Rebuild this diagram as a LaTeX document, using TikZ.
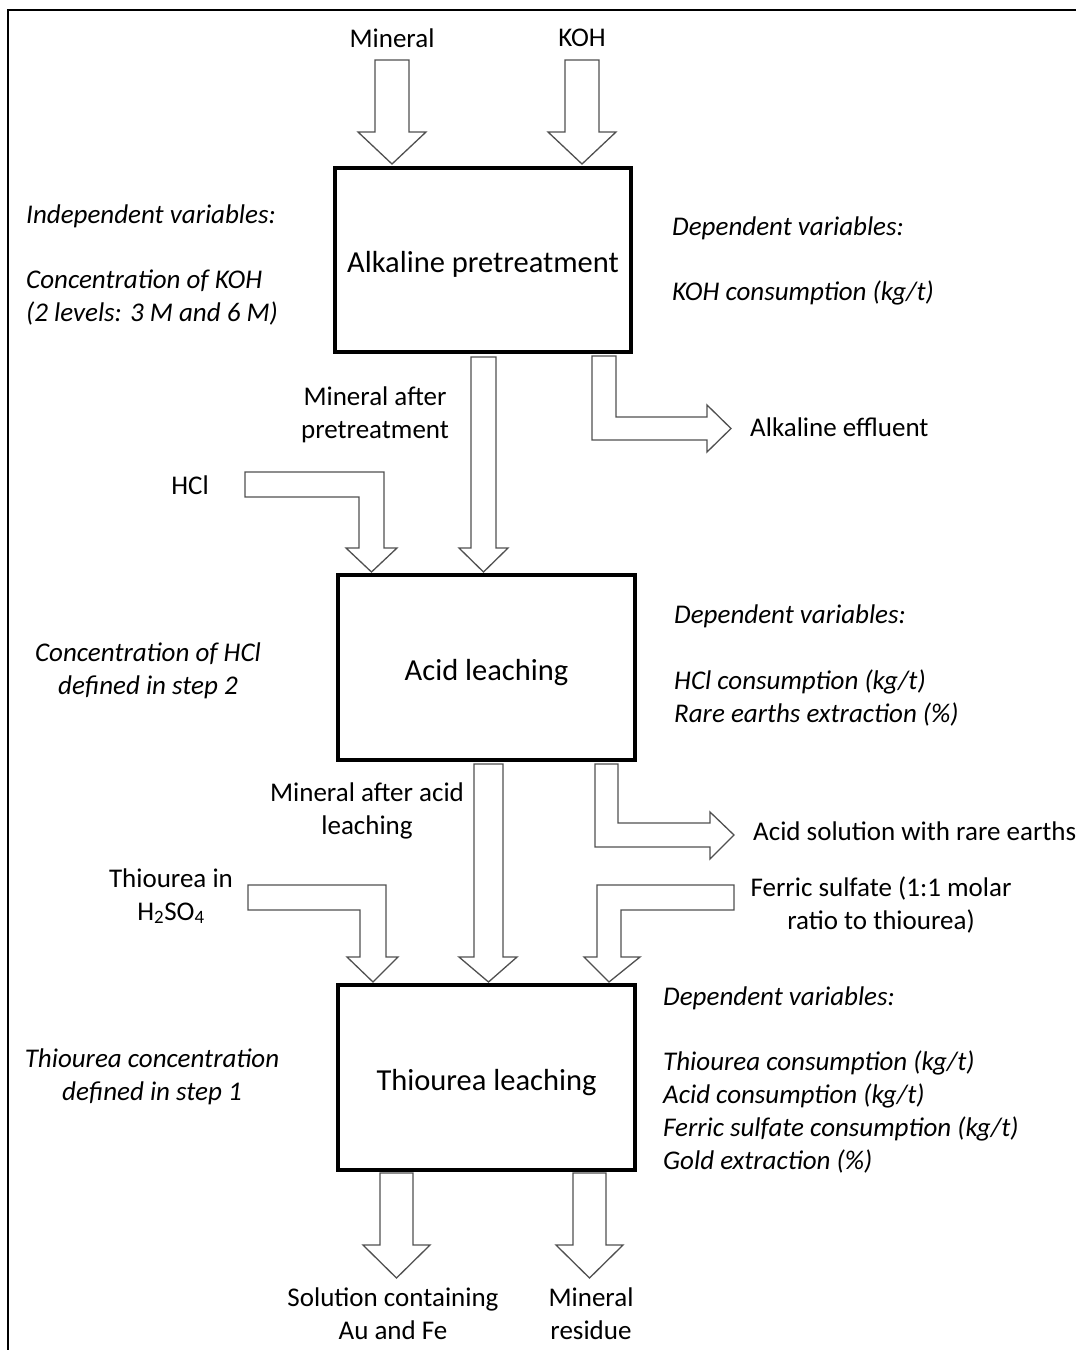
\documentclass[tikz,border=0pt]{standalone}
\usepackage{fontspec}
\setmainfont{Carlito}
\definecolor{arrowgray}{RGB}{80,80,80}
\begin{document}
\begin{tikzpicture}[x=1pt,y=-1pt,
  proc/.style={draw, line width=3.6pt, inner sep=0pt, text height=30pt, text depth=5pt, font=\fontsize{30.5}{36}\selectfont},
  fat/.style={draw=arrowgray, line width=1.3pt, fill=white, line join=miter},
  lbl/.style={font=\fontsize{27}{33}\selectfont, inner sep=0pt, align=center},
  var/.style={font=\fontsize{27}{33}\selectfont\itshape, inner sep=0pt, align=left, anchor=west},
  varc/.style={font=\fontsize{27}{33}\selectfont\itshape, inner sep=0pt, align=center}]
\useasboundingbox (0,0) rectangle (1076,1350);
\fill[white] (0,0) rectangle (1076,1350);
% outer frame (left and top edges visible)
\draw[line width=2.4pt] (8,1360) -- (8,10) -- (1090,10);

% block arrows
\draw[fat] (375,60) -- (409,60) -- (409,132) -- (426,132) -- (392,164) -- (358,132) -- (375,132) -- cycle;
\draw[fat] (565,60) -- (599,60) -- (599,132) -- (616,132) -- (582,164) -- (548,132) -- (565,132) -- cycle;
\draw[fat] (471,357) -- (496,357) -- (496,548) -- (508,548) -- (483.5,572) -- (459,548) -- (471,548) -- cycle;
\draw[fat] (245,472) -- (384,472) -- (384,548) -- (397,548) -- (371.5,572) -- (346,548) -- (359,548) -- (359,497) -- (245,497) -- cycle;
\draw[fat] (592,356) -- (616,356) -- (616,417) -- (707,417) -- (707,405) -- (731,428.5) -- (707,452) -- (707,440) -- (592,440) -- cycle;
\draw[fat] (474,764) -- (503,764) -- (503,957) -- (517,957) -- (488.5,982) -- (459,957) -- (474,957) -- cycle;
\draw[fat] (248,885) -- (386,885) -- (386,957) -- (398,957) -- (373,982) -- (347,957) -- (360,957) -- (360,910) -- (248,910) -- cycle;
\draw[fat] (734,885) -- (597,885) -- (597,957) -- (584,957) -- (609,982) -- (640,957) -- (621,957) -- (621,910) -- (734,910) -- cycle;
\draw[fat] (595,764) -- (618,764) -- (618,823) -- (710,823) -- (710,812) -- (734,835) -- (710,859) -- (710,847) -- (595,847) -- cycle;
\draw[fat] (380,1173) -- (413,1173) -- (413,1245) -- (430,1245) -- (396.5,1278) -- (363,1245) -- (380,1245) -- cycle;
\draw[fat] (573,1173) -- (606,1173) -- (606,1245) -- (623,1245) -- (589.5,1278) -- (556,1245) -- (573,1245) -- cycle;

% process boxes
\node[proc, minimum width=296pt, minimum height=184pt] (box1) at (483,260) {Alkaline pretreatment};
\node[proc, minimum width=297pt, minimum height=185pt] (box2) at (486.5,667.5) {Acid leaching};
\node[proc, minimum width=297pt, minimum height=185pt] (box3) at (486.5,1077.5) {Thiourea leaching};

% labels
\node[lbl] (mineral) at (392,38) {Mineral};
\node[lbl] (koh) at (582,38) {KOH};
\node[var] (ind1) at (26,216) {Independent variables:};
\node[var] (ind2) at (26,297.5) {Concentration of KOH\\(2 levels: 3 M and 6 M)};
\node[var] (dep1) at (672,228.5) {Dependent variables:};
\node[var] (dep1b) at (672,293) {KOH consumption (kg/t)};
\node[lbl] (map) at (375,415) {Mineral after\\pretreatment};
\node[lbl, anchor=west] (eff) at (750,427) {Alkaline effluent};
\node[lbl] (hcl) at (190,485) {HCl};
\node[varc] (chcl) at (148,670.5) {Concentration of HCl\\defined in step 2};
\node[var] (dep2) at (674,616) {Dependent variables:};
\node[var] (dep2b) at (674,698) {HCl consumption (kg/t)\\Rare earths extraction (\%)};
\node[lbl] (maa) at (367,811) {Mineral after acid\\leaching};
\node[lbl, anchor=west] (acs) at (753,831) {Acid solution with rare earths};
\node[lbl] (thio) at (171,896) {Thiourea in\\H\textsubscript{2}SO\textsubscript{4}};
\node[lbl] (ferric) at (881,904.5) {Ferric sulfate (1:1 molar\\ratio to thiourea)};
\node[var] (dep3) at (663,998) {Dependent variables:};
\node[var] (dep3b) at (663,1112) {Thiourea consumption (kg/t)\\Acid consumption (kg/t)\\Ferric sulfate consumption (kg/t)\\Gold extraction (\%)};
\node[varc] (tconc) at (152,1076.5) {Thiourea concentration\\defined in step 1};
\node[lbl] (sol) at (393,1314) {Solution containing\\Au and Fe};
\node[lbl] (res) at (591,1314) {Mineral\\residue};
\end{tikzpicture}
\end{document}
